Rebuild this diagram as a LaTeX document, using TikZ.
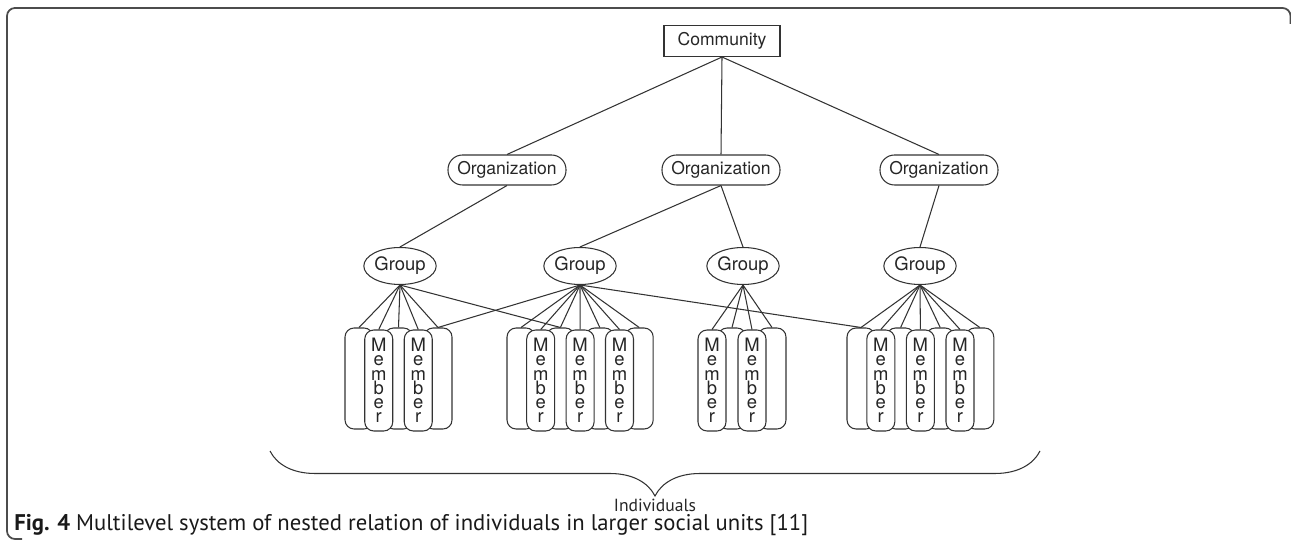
\documentclass[tikz,border=0pt]{standalone}
\usepackage{fontspec}
\setmainfont{TeX Gyre Heros}
\newfontfamily\captionfont{PT Sans}
\usetikzlibrary{shapes.geometric,decorations.pathreplacing}
\tikzset{
  unitbox/.style={draw=black!80,fill=white,line width=0.6pt,text=black!85,
    font=\fontsize{10}{12}\selectfont,inner sep=0pt},
  communitybox/.style={unitbox,minimum width=2.32cm,minimum height=0.62cm},
  orgbox/.style={unitbox,rounded corners=0.29cm,minimum width=2.36cm,minimum height=0.6cm},
  groupnode/.style={unitbox,ellipse,minimum width=1.34cm,minimum height=0.74cm,
    font=\fontsize{10.5}{12}\selectfont},
  plaincol/.style={unitbox,rounded corners=0.18cm,minimum width=0.56cm,minimum height=2.02cm},
  membercol/.style={plaincol,align=center,font=\fontsize{10.5}{8.1}\selectfont},
  tieline/.style={draw=black!80,line width=0.6pt},
  framestroke/.style={draw=black!70,line width=1pt,rounded corners=0.16cm}
}

\begin{document}
\begin{tikzpicture}[x=0.02cm,y=-0.02cm]
  \useasboundingbox (0,0) rectangle (1291,540);
  \draw[framestroke] (1290.5,24) -- (1290.5,8) -- (7,8) -- (7,539) -- (22,539);
  % units
  \node[communitybox] (comm) at (722,41) {Community};
  \node[orgbox] (orgA) at (507,170) {Organization};
  \node[orgbox] (orgB) at (721,170) {Organization};
  \node[orgbox] (orgC) at (939,170) {Organization};
  \node[groupnode] (g1) at (400,266) {Group};
  \node[groupnode] (g2) at (580,266) {Group};
  \node[groupnode] (g3) at (743,266) {Group};
  \node[groupnode] (g4) at (920,266) {Group};
  \draw[tieline] (comm.south) -- (orgA.north);
  \draw[tieline] (comm.south) -- (orgB.north);
  \draw[tieline] (comm.south) -- (orgC.north);
  \draw[tieline] (orgA.south) -- (g1.north);
  \draw[tieline] (orgB.south) -- (g2.north);
  \draw[tieline] (orgB.south) -- (g3.north);
  \draw[tieline] (orgC.south) -- (g4.north);
  % member columns: stack / count / first x / pitch / first member
  \foreach \s/\n/\xa/\p/\first in {1/5/359/19.75/2, 2/7/521/19.7/2, 3/4/712/20/1, 4/7/861/19.8/2}{
    \foreach \k in {1,...,\n}{
      \pgfmathtruncatemacro\ismem{mod(\k-\first+2,2)==0}
      \ifnum\ismem=0
        \node[plaincol] (c\s-\k) at ({\xa+(\k-1)*\p},378.5) {};
      \fi
    }
    \foreach \k in {1,...,\n}{
      \pgfmathtruncatemacro\ismem{mod(\k-\first+2,2)==0}
      \ifnum\ismem=1
        \node[membercol] (c\s-\k) at ({\xa+(\k-1)*\p},380.5) {M\\e\\m\\b\\e\\r};
      \fi
    }
    \foreach \k in {1,...,\n}
      \draw[tieline] (g\s.south) -- (c\s-\k.north);
  }
  \draw[tieline] (g1.south) -- (c2-3.north);
  \draw[tieline] (g2.south) -- (c1-5.north);
  \draw[tieline] (g2.south) -- (c4-1.north);
  % brace and caption
  \coordinate (braceL) at (270,451);
  \coordinate (braceR) at (1040,451);
  \draw[draw=black!80,line width=0.6pt,decorate,decoration={brace,mirror,amplitude=0.9cm}]
    (braceL) -- (braceR);
  \node[font=\captionfont\fontsize{10}{12}\selectfont,text=black!85,inner sep=0pt] (indiv) at (655,505) {Individuals};
  \node[anchor=base west,inner sep=0pt,font=\captionfont\fontsize{12.9}{14}\selectfont,text=black!90]
    (cap) at (14,530) {\textbf{Fig. 4} Multilevel system of nested relation of individuals in larger social units [11]};
\end{tikzpicture}
\end{document}
